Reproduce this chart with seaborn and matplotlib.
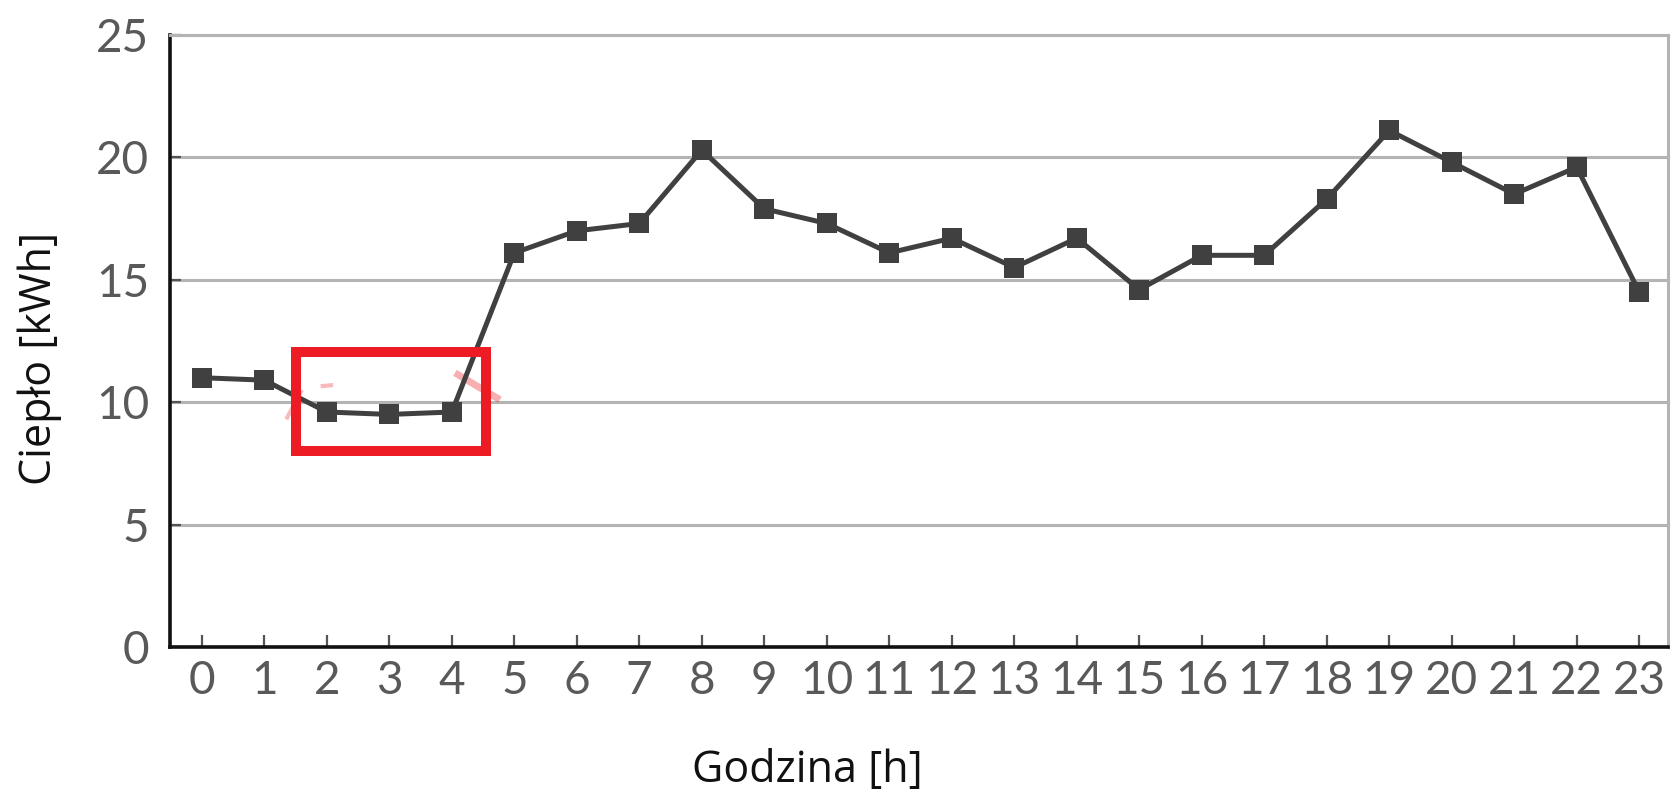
import matplotlib
matplotlib.use("Agg")
import matplotlib.pyplot as plt
from matplotlib.patches import Rectangle
import seaborn as sns
import pandas as pd

# Hourly heat demand
hours = list(range(24))
heat_kwh = [11.0, 10.9, 9.6, 9.5, 9.6, 16.1, 17.0, 17.3, 20.3, 17.9, 17.3, 16.1,
            16.7, 15.5, 16.7, 14.6, 16.0, 16.0, 18.3, 21.1, 19.8, 18.5, 19.6, 14.5]
y_ticks = [0, 5, 10, 15, 20, 25]
x_label = "Godzina [h]"
y_label = "Ciepło [kWh]"

# Highlighted night-time window (hours, kWh)
highlight_hours = (1.5, 4.55)
highlight_kwh = (8.0, 12.05)

sns.set_theme(style="white")
plt.rcParams["font.family"] = ["Lato", "DejaVu Sans"]

df = pd.DataFrame({"hour": hours, "heat": heat_kwh})

fig = plt.figure(figsize=(16.71, 7.94), dpi=100)
ax = fig.add_axes([170 / 1671, 1 - 647 / 794, 1498 / 1671, 612 / 794])

sns.lineplot(data=df, x="hour", y="heat", ax=ax, color="#404040", linewidth=3.6,
             marker="s", markersize=14, markeredgewidth=0, markerfacecolor="#404040",
             zorder=4)

ax.set_xlim(-0.51, 23.46)
ax.set_ylim(0, 25)
ax.set_xticks(hours)
ax.set_yticks(y_ticks)

grid_col = "#b4b4b4"
ax.yaxis.grid(True, color=grid_col, linewidth=2.2)
ax.xaxis.grid(False)
ax.set_axisbelow(True)

for side in ("left", "bottom"):
    ax.spines[side].set_color("#111111")
    ax.spines[side].set_linewidth(2.6)
for side in ("top", "right"):
    ax.spines[side].set_color(grid_col)
    ax.spines[side].set_linewidth(2.2)

ax.tick_params(axis="x", bottom=True, direction="in", length=9, width=1.6,
               color="#555555", labelsize=33, labelcolor="#595959", pad=9)
ax.tick_params(axis="y", left=True, direction="in", length=8, width=1.6,
               color="#555555", labelsize=33, labelcolor="#595959", pad=15)

ax.set_xlabel(x_label, fontsize=31, color="#111111", family=["Open Sans", "DejaVu Sans"])
ax.set_ylabel(y_label, fontsize=31, color="#111111", family=["Open Sans", "DejaVu Sans"])
ax.xaxis.set_label_coords(0.4256, -0.2026)
ax.xaxis.label.set_va("center")
ax.yaxis.set_label_coords(-0.0868, 0.471)
ax.yaxis.label.set_va("center")

# Red frame around the low-demand hours
ax.add_patch(Rectangle((highlight_hours[0], highlight_kwh[0]),
                       highlight_hours[1] - highlight_hours[0],
                       highlight_kwh[1] - highlight_kwh[0],
                       fill=False, edgecolor="#ed1c24", linewidth=7.2, zorder=5,
                       clip_on=False))

# Faint remains of arrow strokes at the frame edges
ax.plot([4.05, 4.77], [11.2, 10.1], color="#ed1c24", alpha=0.35, linewidth=5,
        solid_capstyle="butt", zorder=3)
ax.plot([1.35, 1.6], [9.3, 10.5], color="#ed1c24", alpha=0.3, linewidth=3,
        solid_capstyle="butt", zorder=3)
ax.plot([1.9, 2.1], [10.65, 10.7], color="#ed1c24", alpha=0.3, linewidth=3,
        solid_capstyle="butt", zorder=3)

fig.savefig("out.png", dpi=100, facecolor="white")
